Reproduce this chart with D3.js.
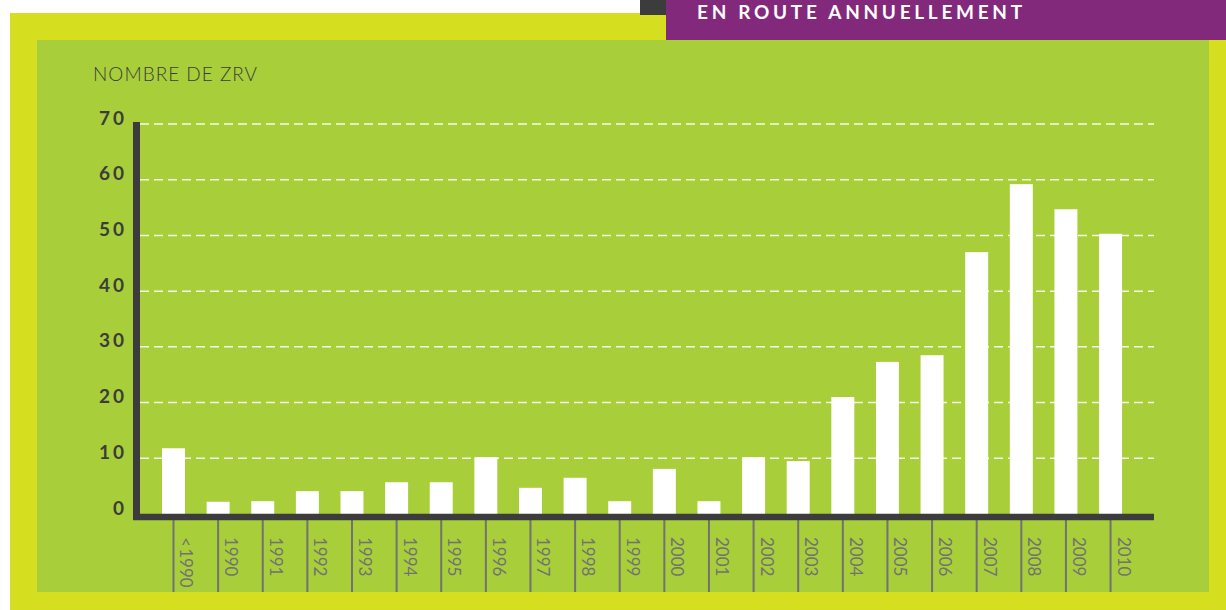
<!DOCTYPE html>
<html>
<head>
<meta charset="utf-8">
<script src="https://cdn.jsdelivr.net/npm/d3@7"></script>
<style>
  body { margin: 0; background: #fff; }
  svg { display: block; font-family: Lato, "Open Sans", sans-serif; }
</style>
</head>
<body>
<svg id="chart"></svg>
<script>
// Data: number of ZRV put into service per year
const years = ["< 1990", "1990", "1991", "1992", "1993", "1994", "1995", "1996", "1997", "1998", "1999",
               "2000", "2001", "2002", "2003", "2004", "2005", "2006", "2007", "2008", "2009", "2010"];
const counts = [11.8, 2.2, 2.3, 4.1, 4.1, 5.7, 5.7, 10.2, 4.7, 6.5, 2.3,
                8.1, 2.3, 10.2, 9.5, 21.0, 27.3, 28.5, 47.0, 59.2, 54.7, 50.3];
const yTicks = [0, 10, 20, 30, 40, 50, 60, 70];
const titleText = "EN ROUTE ANNUELLEMENT";
const yLabelText = "NOMBRE DE ZRV";

const W = 1226, H = 610;
const colors = {
    frame: "#d5df20",
    panel: "#a8ce3a",
    purple: "#83297b",
    dark: "#3c3c3c",
    tick: "#727272"
};

const svg = d3.select("#chart")
    .attr("width", W)
    .attr("height", H);

// background frames
svg.append("rect").attr("x", 10).attr("y", 13).attr("width", W - 10).attr("height", H - 13)
    .attr("fill", colors.frame);
svg.append("rect").attr("x", 37).attr("y", 40).attr("width", 1172).attr("height", 552)
    .attr("fill", colors.panel);

// header tab
svg.append("rect").attr("x", 640).attr("y", 0).attr("width", 26).attr("height", 15)
    .attr("fill", colors.dark);
svg.append("rect").attr("x", 666).attr("y", 0).attr("width", W - 666).attr("height", 40)
    .attr("fill", colors.purple);
svg.append("text")
    .attr("x", 697)
    .attr("y", 19)
    .attr("fill", "#fff")
    .style("font-size", "19px")
    .style("font-weight", 700)
    .style("letter-spacing", "3.7px")
    .text(titleText);

// axis title
svg.append("text")
    .attr("x", 93)
    .attr("y", 81)
    .attr("fill", colors.dark)
    .style("font-size", "19px")
    .style("font-weight", 300)
    .style("letter-spacing", "1px")
    .text(yLabelText);

// scales
const x = d3.scaleBand()
    .domain(years)
    .range([150.85, 1133.2])
    .paddingInner(0.485)
    .paddingOuter(0.25);

const y = d3.scaleLinear()
    .domain([0, 70])
    .range([514, 124]);

// gridlines
svg.append("g")
    .selectAll("line")
    .data(yTicks.filter(d => d > 0))
    .join("line")
    .attr("x1", 140)
    .attr("x2", 1154)
    .attr("y1", d => y(d))
    .attr("y2", d => y(d))
    .attr("stroke", "#fff")
    .attr("stroke-opacity", 0.9)
    .attr("stroke-width", 1.5)
    .attr("stroke-dasharray", "9,5");

// bars
svg.append("g")
    .selectAll("rect")
    .data(years)
    .join("rect")
    .attr("x", d => x(d))
    .attr("width", x.bandwidth())
    .attr("y", (d, i) => y(counts[i]))
    .attr("height", (d, i) => y(0) - y(counts[i]))
    .attr("fill", "#fff");

// y axis labels
const yAxisG = svg.append("g")
    .attr("transform", "translate(136,0)")
    .call(d3.axisLeft(y).tickValues(yTicks).tickSize(0).tickPadding(9));
yAxisG.select(".domain").remove();
yAxisG.selectAll("text")
    .attr("y", -6)
    .attr("fill", colors.dark)
    .style("font-family", "Lato, sans-serif")
    .style("font-size", "19px")
    .style("font-weight", 700)
    .style("letter-spacing", "3px");

// x axis ticks and rotated labels
const xAxisG = svg.append("g")
    .attr("transform", "translate(0,520)")
    .call(d3.axisBottom(x).tickSize(72).tickSizeOuter(0));
xAxisG.select(".domain").remove();
xAxisG.selectAll(".tick line")
    .attr("stroke", colors.tick)
    .attr("stroke-width", 2);
xAxisG.selectAll("text")
    .attr("transform", "rotate(90)")
    .attr("x", 17)
    .attr("y", -7)
    .attr("dy", 0)
    .attr("text-anchor", "start")
    .attr("fill", colors.tick)
    .style("font-family", "Lato, sans-serif")
    .style("font-size", "17px")
    .style("font-weight", 400)
    .style("word-spacing", "-3px");

// main axis lines
svg.append("line")
    .attr("x1", 136.5).attr("x2", 136.5)
    .attr("y1", 122).attr("y2", 520)
    .attr("stroke", colors.dark)
    .attr("stroke-width", 7);
svg.append("line")
    .attr("x1", 133).attr("x2", 1154)
    .attr("y1", 517).attr("y2", 517)
    .attr("stroke", colors.dark)
    .attr("stroke-width", 6.5);
</script>
</body>
</html>
